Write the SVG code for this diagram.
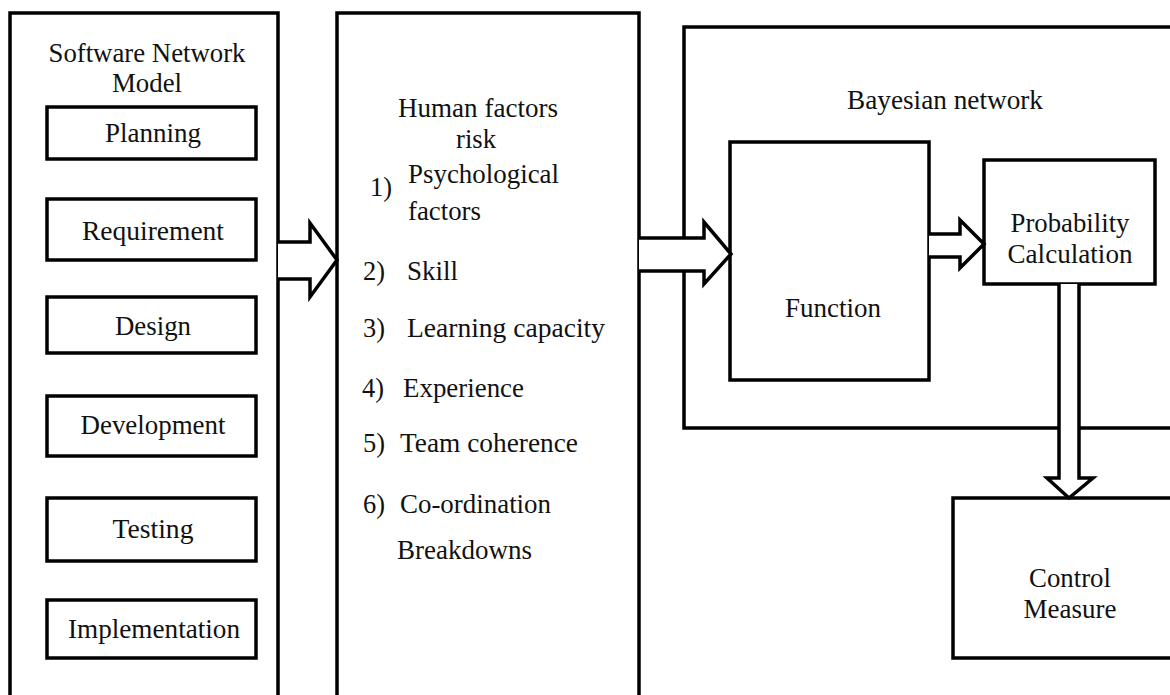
<svg xmlns="http://www.w3.org/2000/svg" width="1170" height="695" viewBox="0 0 1170 695">
<style>
  .box{fill:#fff;stroke:#000;stroke-width:3.5}
  .frame{fill:none;stroke:#000;stroke-width:3.5}
  .arr{fill:#fff;stroke:#000;stroke-width:3.5;stroke-linejoin:miter}
  text{font-family:"Liberation Serif","Times New Roman","DejaVu Serif",serif;font-size:27px;fill:#111}
  .c{text-anchor:middle}
</style>
<rect width="1170" height="695" fill="#fff"/>
<g id="software-network-model">
  <rect class="frame" x="10" y="13" width="268" height="700"/>
  <text class="c" x="147" y="62" textLength="197" lengthAdjust="spacingAndGlyphs">Software Network</text>
  <text class="c" x="147" y="92" textLength="70" lengthAdjust="spacingAndGlyphs">Model</text>
</g>
<g id="planning"><rect class="box" x="47" y="107" width="209" height="52"/><text class="c" x="153" y="142" textLength="96" lengthAdjust="spacingAndGlyphs">Planning</text></g>
<g id="requirement"><rect class="box" x="47" y="199" width="209" height="61"/><text class="c" x="153" y="240" textLength="142" lengthAdjust="spacingAndGlyphs">Requirement</text></g>
<g id="design"><rect class="box" x="47" y="297" width="209" height="56"/><text class="c" x="153" y="335" textLength="76" lengthAdjust="spacingAndGlyphs">Design</text></g>
<g id="development"><rect class="box" x="47" y="396" width="209" height="60"/><text class="c" x="153" y="434" textLength="145" lengthAdjust="spacingAndGlyphs">Development</text></g>
<g id="testing"><rect class="box" x="47" y="498" width="209" height="63"/><text class="c" x="153" y="538" textLength="81" lengthAdjust="spacingAndGlyphs">Testing</text></g>
<g id="implementation"><rect class="box" x="47" y="600" width="209" height="58"/><text class="c" x="154" y="638" textLength="172" lengthAdjust="spacingAndGlyphs">Implementation</text></g>
<g id="human-factors-risk">
  <rect class="frame" x="337" y="13" width="302" height="700"/>
  <text class="c" x="478" y="117" textLength="160" lengthAdjust="spacingAndGlyphs">Human factors</text>
  <text class="c" x="476" y="148" textLength="40" lengthAdjust="spacingAndGlyphs">risk</text>
  <text x="370" y="196" textLength="22" lengthAdjust="spacingAndGlyphs">1)</text><text x="408" y="183" textLength="151" lengthAdjust="spacingAndGlyphs">Psychological</text>
  <text x="408" y="220" textLength="73" lengthAdjust="spacingAndGlyphs">factors</text>
  <text x="363" y="280" textLength="22" lengthAdjust="spacingAndGlyphs">2)</text><text x="407" y="280" textLength="51" lengthAdjust="spacingAndGlyphs">Skill</text>
  <text x="363" y="337" textLength="22" lengthAdjust="spacingAndGlyphs">3)</text><text x="407" y="337" textLength="198" lengthAdjust="spacingAndGlyphs">Learning capacity</text>
  <text x="362" y="397" textLength="22" lengthAdjust="spacingAndGlyphs">4)</text><text x="403" y="397" textLength="121" lengthAdjust="spacingAndGlyphs">Experience</text>
  <text x="363" y="452" textLength="22" lengthAdjust="spacingAndGlyphs">5)</text><text x="400" y="452" textLength="178" lengthAdjust="spacingAndGlyphs">Team coherence</text>
  <text x="363" y="513" textLength="22" lengthAdjust="spacingAndGlyphs">6)</text><text x="400" y="513" textLength="151" lengthAdjust="spacingAndGlyphs">Co-ordination</text>
  <text x="397" y="559" textLength="135" lengthAdjust="spacingAndGlyphs">Breakdowns</text>
</g>
<g id="bayesian-network">
  <rect class="frame" x="684" y="27" width="500" height="401"/>
  <text class="c" x="945" y="109" textLength="196" lengthAdjust="spacingAndGlyphs">Bayesian network</text>
</g>
<g id="function"><rect class="box" x="730" y="142" width="199" height="238"/><text class="c" x="833" y="317" textLength="96" lengthAdjust="spacingAndGlyphs">Function</text></g>
<g id="probability-calculation"><rect class="box" x="984" y="160" width="171" height="124"/>
  <text class="c" x="1070" y="232" textLength="119" lengthAdjust="spacingAndGlyphs">Probability</text>
  <text class="c" x="1070" y="263" textLength="125" lengthAdjust="spacingAndGlyphs">Calculation</text></g>
<g id="control-measure"><rect class="box" x="953" y="498" width="230" height="160"/>
  <text class="c" x="1070" y="587" textLength="82" lengthAdjust="spacingAndGlyphs">Control</text>
  <text class="c" x="1070" y="618" textLength="93" lengthAdjust="spacingAndGlyphs">Measure</text></g>
<g id="connectors">
  <path class="arr" d="M278,242 H310 V223 L337,260 L310,297 V279 H278"/>
  <path class="arr" d="M639,238 H704 V222 L731,254 L704,284 V271 H639"/>
  <path class="arr" d="M929,234 H960 V220 L984,244 L960,268 V257 H929"/>
  <path class="arr" d="M1059,284 V478 H1047 L1069,498 L1093,478 H1079 V284"/>
</g>
</svg>
